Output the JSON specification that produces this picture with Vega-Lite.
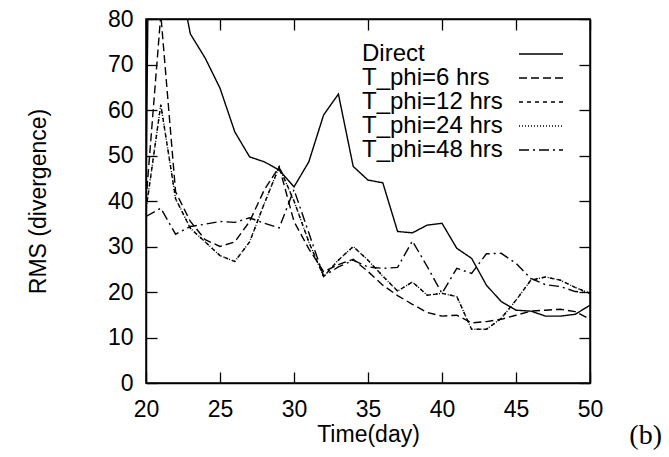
{
  "$schema": "https://vega.github.io/schema/vega-lite/v6.json",
  "width": 444,
  "height": 364,
  "autosize": "none",
  "padding": {"left": 146, "top": 19, "right": 79, "bottom": 74},
  "background": "white",
  "config": {
    "font": "Liberation Sans",
    "view": {"stroke": "black", "strokeWidth": 1.5},
    "axis": {
      "grid": false,
      "labelColor": "black",
      "labelFontSize": 23,
      "titleColor": "black",
      "titleFontSize": 23,
      "titleFontWeight": "normal",
      "zindex": 1
    },
    "legend": {
      "orient": "none",
      "legendX": 383,
      "legendY": 23,
      "padding": 0,
      "rowPadding": 0,
      "labelFontSize": 24,
      "labelColor": "black",
      "symbolType": "M-2,0H2",
      "symbolSize": 484,
      "symbolStrokeWidth": 1.3,
      "symbolStrokeColor": "black",
      "symbolFillColor": "transparent",
      "symbolOffset": 0,
      "labelOffset": -191
    }
  },
  "title": {
    "text": "(b)",
    "orient": "bottom",
    "anchor": "end",
    "frame": "group",
    "font": "Liberation Serif",
    "fontSize": 28,
    "fontWeight": "normal",
    "color": "black",
    "offset": 0,
    "dx": 72,
    "dy": -24
  },
  "data": {
    "values": [
      {"series": "Direct", "day": 20, "rms": 42}, {"series": "Direct", "day": 21, "rms": 350}, {"series": "Direct", "day": 22, "rms": 93}, {"series": "Direct", "day": 23, "rms": 76.7}, {"series": "Direct", "day": 24, "rms": 71.4}, {"series": "Direct", "day": 25, "rms": 64.8}, {"series": "Direct", "day": 26, "rms": 55.2}, {"series": "Direct", "day": 27, "rms": 49.7}, {"series": "Direct", "day": 28, "rms": 48.6}, {"series": "Direct", "day": 29, "rms": 46.8}, {"series": "Direct", "day": 30, "rms": 43.1}, {"series": "Direct", "day": 31, "rms": 48.6}, {"series": "Direct", "day": 32, "rms": 58.9}, {"series": "Direct", "day": 33, "rms": 63.5}, {"series": "Direct", "day": 34, "rms": 47.6}, {"series": "Direct", "day": 35, "rms": 44.6}, {"series": "Direct", "day": 36, "rms": 44}, {"series": "Direct", "day": 37, "rms": 33.3}, {"series": "Direct", "day": 38, "rms": 33}, {"series": "Direct", "day": 39, "rms": 34.7}, {"series": "Direct", "day": 40, "rms": 35.1}, {"series": "Direct", "day": 41, "rms": 29.6}, {"series": "Direct", "day": 42, "rms": 27.4}, {"series": "Direct", "day": 43, "rms": 21.5}, {"series": "Direct", "day": 44, "rms": 17.9}, {"series": "Direct", "day": 45, "rms": 16}, {"series": "Direct", "day": 46, "rms": 15.8}, {"series": "Direct", "day": 47, "rms": 14.7}, {"series": "Direct", "day": 48, "rms": 14.7}, {"series": "Direct", "day": 49, "rms": 15.1}, {"series": "Direct", "day": 50, "rms": 17.1},
      {"series": "T_phi=6 hrs", "day": 20, "rms": 40}, {"series": "T_phi=6 hrs", "day": 21, "rms": 81}, {"series": "T_phi=6 hrs", "day": 22, "rms": 42}, {"series": "T_phi=6 hrs", "day": 23, "rms": 35.5}, {"series": "T_phi=6 hrs", "day": 24, "rms": 31.5}, {"series": "T_phi=6 hrs", "day": 25, "rms": 30}, {"series": "T_phi=6 hrs", "day": 26, "rms": 31}, {"series": "T_phi=6 hrs", "day": 27, "rms": 35.5}, {"series": "T_phi=6 hrs", "day": 28, "rms": 42.5}, {"series": "T_phi=6 hrs", "day": 29, "rms": 47.5}, {"series": "T_phi=6 hrs", "day": 30, "rms": 35.5}, {"series": "T_phi=6 hrs", "day": 31, "rms": 29.5}, {"series": "T_phi=6 hrs", "day": 32, "rms": 24.5}, {"series": "T_phi=6 hrs", "day": 33, "rms": 26}, {"series": "T_phi=6 hrs", "day": 34, "rms": 27.2}, {"series": "T_phi=6 hrs", "day": 35, "rms": 24.5}, {"series": "T_phi=6 hrs", "day": 36, "rms": 21.5}, {"series": "T_phi=6 hrs", "day": 37, "rms": 19.2}, {"series": "T_phi=6 hrs", "day": 38, "rms": 17.3}, {"series": "T_phi=6 hrs", "day": 39, "rms": 15.5}, {"series": "T_phi=6 hrs", "day": 40, "rms": 14.7}, {"series": "T_phi=6 hrs", "day": 41, "rms": 14.9}, {"series": "T_phi=6 hrs", "day": 42, "rms": 13.2}, {"series": "T_phi=6 hrs", "day": 43, "rms": 13.5}, {"series": "T_phi=6 hrs", "day": 44, "rms": 14}, {"series": "T_phi=6 hrs", "day": 45, "rms": 14.9}, {"series": "T_phi=6 hrs", "day": 46, "rms": 15.8}, {"series": "T_phi=6 hrs", "day": 47, "rms": 16}, {"series": "T_phi=6 hrs", "day": 48, "rms": 16.2}, {"series": "T_phi=6 hrs", "day": 49, "rms": 15.7}, {"series": "T_phi=6 hrs", "day": 50, "rms": 14},
      {"series": "T_phi=12 hrs", "day": 20, "rms": 38}, {"series": "T_phi=12 hrs", "day": 21, "rms": 61.2}, {"series": "T_phi=12 hrs", "day": 22, "rms": 40.5}, {"series": "T_phi=12 hrs", "day": 23, "rms": 34}, {"series": "T_phi=12 hrs", "day": 24, "rms": 31}, {"series": "T_phi=12 hrs", "day": 25, "rms": 28}, {"series": "T_phi=12 hrs", "day": 26, "rms": 26.7}, {"series": "T_phi=12 hrs", "day": 27, "rms": 31}, {"series": "T_phi=12 hrs", "day": 28, "rms": 39.5}, {"series": "T_phi=12 hrs", "day": 29, "rms": 47.5}, {"series": "T_phi=12 hrs", "day": 30, "rms": 40}, {"series": "T_phi=12 hrs", "day": 31, "rms": 31}, {"series": "T_phi=12 hrs", "day": 32, "rms": 23.4}, {"series": "T_phi=12 hrs", "day": 33, "rms": 27}, {"series": "T_phi=12 hrs", "day": 34, "rms": 30}, {"series": "T_phi=12 hrs", "day": 35, "rms": 27}, {"series": "T_phi=12 hrs", "day": 36, "rms": 23.5}, {"series": "T_phi=12 hrs", "day": 37, "rms": 20.2}, {"series": "T_phi=12 hrs", "day": 38, "rms": 22.2}, {"series": "T_phi=12 hrs", "day": 39, "rms": 19.3}, {"series": "T_phi=12 hrs", "day": 40, "rms": 19.7}, {"series": "T_phi=12 hrs", "day": 41, "rms": 19}, {"series": "T_phi=12 hrs", "day": 42, "rms": 11.8}, {"series": "T_phi=12 hrs", "day": 43, "rms": 11.8}, {"series": "T_phi=12 hrs", "day": 44, "rms": 14.2}, {"series": "T_phi=12 hrs", "day": 45, "rms": 18.2}, {"series": "T_phi=12 hrs", "day": 46, "rms": 22.6}, {"series": "T_phi=12 hrs", "day": 47, "rms": 23.3}, {"series": "T_phi=12 hrs", "day": 48, "rms": 22.6}, {"series": "T_phi=12 hrs", "day": 49, "rms": 21}, {"series": "T_phi=12 hrs", "day": 50, "rms": 19.7},
      {"series": "T_phi=24 hrs", "day": 20, "rms": 38}, {"series": "T_phi=24 hrs", "day": 21, "rms": 61.2}, {"series": "T_phi=24 hrs", "day": 22, "rms": 40.5}, {"series": "T_phi=24 hrs", "day": 23, "rms": 34}, {"series": "T_phi=24 hrs", "day": 24, "rms": 31}, {"series": "T_phi=24 hrs", "day": 25, "rms": 28}, {"series": "T_phi=24 hrs", "day": 26, "rms": 26.7}, {"series": "T_phi=24 hrs", "day": 27, "rms": 31}, {"series": "T_phi=24 hrs", "day": 28, "rms": 39.5}, {"series": "T_phi=24 hrs", "day": 29, "rms": 47.5}, {"series": "T_phi=24 hrs", "day": 30, "rms": 40}, {"series": "T_phi=24 hrs", "day": 31, "rms": 31}, {"series": "T_phi=24 hrs", "day": 32, "rms": 23.4}, {"series": "T_phi=24 hrs", "day": 33, "rms": 27}, {"series": "T_phi=24 hrs", "day": 34, "rms": 30}, {"series": "T_phi=24 hrs", "day": 35, "rms": 27}, {"series": "T_phi=24 hrs", "day": 36, "rms": 23.5}, {"series": "T_phi=24 hrs", "day": 37, "rms": 20.2}, {"series": "T_phi=24 hrs", "day": 38, "rms": 22.2}, {"series": "T_phi=24 hrs", "day": 39, "rms": 19.3}, {"series": "T_phi=24 hrs", "day": 40, "rms": 19.7}, {"series": "T_phi=24 hrs", "day": 41, "rms": 19}, {"series": "T_phi=24 hrs", "day": 42, "rms": 11.8}, {"series": "T_phi=24 hrs", "day": 43, "rms": 11.8}, {"series": "T_phi=24 hrs", "day": 44, "rms": 14.2}, {"series": "T_phi=24 hrs", "day": 45, "rms": 18.2}, {"series": "T_phi=24 hrs", "day": 46, "rms": 22.6}, {"series": "T_phi=24 hrs", "day": 47, "rms": 23.3}, {"series": "T_phi=24 hrs", "day": 48, "rms": 22.6}, {"series": "T_phi=24 hrs", "day": 49, "rms": 21}, {"series": "T_phi=24 hrs", "day": 50, "rms": 19.7},
      {"series": "T_phi=48 hrs", "day": 20, "rms": 36.6}, {"series": "T_phi=48 hrs", "day": 21, "rms": 38.4}, {"series": "T_phi=48 hrs", "day": 22, "rms": 32.7}, {"series": "T_phi=48 hrs", "day": 23, "rms": 34.4}, {"series": "T_phi=48 hrs", "day": 24, "rms": 34.9}, {"series": "T_phi=48 hrs", "day": 25, "rms": 35.5}, {"series": "T_phi=48 hrs", "day": 26, "rms": 35.3}, {"series": "T_phi=48 hrs", "day": 27, "rms": 36.3}, {"series": "T_phi=48 hrs", "day": 28, "rms": 35.1}, {"series": "T_phi=48 hrs", "day": 29, "rms": 34.1}, {"series": "T_phi=48 hrs", "day": 30, "rms": 42.5}, {"series": "T_phi=48 hrs", "day": 31, "rms": 33}, {"series": "T_phi=48 hrs", "day": 32, "rms": 23.5}, {"series": "T_phi=48 hrs", "day": 33, "rms": 25.5}, {"series": "T_phi=48 hrs", "day": 34, "rms": 27}, {"series": "T_phi=48 hrs", "day": 35, "rms": 25.5}, {"series": "T_phi=48 hrs", "day": 36, "rms": 25.2}, {"series": "T_phi=48 hrs", "day": 37, "rms": 25.4}, {"series": "T_phi=48 hrs", "day": 38, "rms": 31.2}, {"series": "T_phi=48 hrs", "day": 39, "rms": 25.6}, {"series": "T_phi=48 hrs", "day": 40, "rms": 19.7}, {"series": "T_phi=48 hrs", "day": 41, "rms": 25.2}, {"series": "T_phi=48 hrs", "day": 42, "rms": 24.1}, {"series": "T_phi=48 hrs", "day": 43, "rms": 28.4}, {"series": "T_phi=48 hrs", "day": 44, "rms": 28.5}, {"series": "T_phi=48 hrs", "day": 45, "rms": 26.3}, {"series": "T_phi=48 hrs", "day": 46, "rms": 23}, {"series": "T_phi=48 hrs", "day": 47, "rms": 21.6}, {"series": "T_phi=48 hrs", "day": 48, "rms": 21.2}, {"series": "T_phi=48 hrs", "day": 49, "rms": 20.1}, {"series": "T_phi=48 hrs", "day": 50, "rms": 19.8}
    ]
  },
  "layer": [
    {
      "mark": {"type": "line", "clip": true, "color": "black", "strokeWidth": 1.4},
      "encoding": {
        "x": {
          "field": "day", "type": "quantitative",
          "scale": {"domain": [20, 50], "nice": false, "zero": false},
          "axis": {"orient": "bottom", "values": [20, 25, 30, 35, 40, 45, 50], "title": "Time(day)", "domainColor": "black", "domainWidth": 1.5, "ticks": true, "tickSize": -11, "tickColor": "black", "tickWidth": 1.3, "labelPadding": 26, "titlePadding": 2, "labelFlush": false}
        },
        "y": {
          "field": "rms", "type": "quantitative",
          "scale": {"domain": [0, 80], "nice": false, "zero": false},
          "axis": {"orient": "left", "values": [0, 10, 20, 30, 40, 50, 60, 70, 80], "title": "RMS (divergence)", "domainColor": "black", "domainWidth": 1.5, "ticks": true, "tickSize": -11, "tickColor": "black", "tickWidth": 1.3, "labelPadding": 24, "titlePadding": 57, "labelFlush": false}
        },
        "strokeDash": {
          "field": "series", "type": "nominal",
          "scale": {
            "domain": ["Direct", "T_phi=6 hrs", "T_phi=12 hrs", "T_phi=24 hrs", "T_phi=48 hrs"],
            "range": [[1, 0], [8, 4], [4, 4], [1, 2], [10, 4, 2, 4]]
          },
          "legend": {"title": null}
        }
      }
    },
    {
      "mark": {"type": "point", "opacity": 0, "clip": true},
      "encoding": {
        "x": {"field": "day", "type": "quantitative", "scale": {"domain": [20, 50], "nice": false, "zero": false}, "axis": {"orient": "top", "values": [20, 25, 30, 35, 40, 45, 50], "labels": false, "title": null, "domainColor": "black", "domainWidth": 1.5, "ticks": true, "tickSize": -11, "tickColor": "black", "tickWidth": 1.3}},
        "y": {"field": "rms", "type": "quantitative", "scale": {"domain": [0, 80], "nice": false, "zero": false}, "axis": {"orient": "right", "values": [0, 10, 20, 30, 40, 50, 60, 70, 80], "labels": false, "title": null, "domainColor": "black", "domainWidth": 1.5, "ticks": true, "tickSize": -11, "tickColor": "black", "tickWidth": 1.3}}
      }
    }
  ],
  "resolve": {"scale": {"x": "independent", "y": "independent"}}
}
